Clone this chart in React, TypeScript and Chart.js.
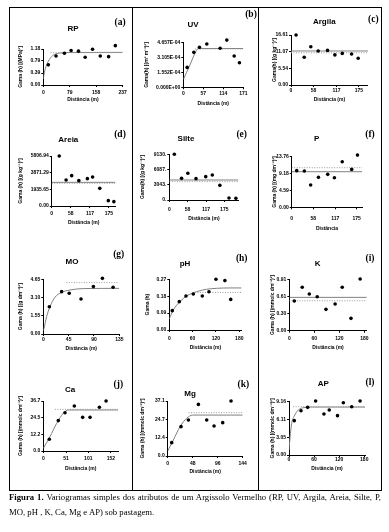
import React, { useEffect, useRef } from "react";
import { Chart, registerables } from "chart.js";
Chart.register(...registerables);

// ---------------- data ----------------
// (a) RP
const RP_DIST = [15, 38, 63, 83, 105, 125, 147, 170, 195, 215];
const RP_GAMMA = [0.66, 0.95, 1.04, 1.13, 1.11, 0.91, 1.17, 0.95, 0.93, 1.29];
const RP_MODEL_DIST = [0, 3, 10, 20, 30, 45, 70, 237];
const RP_MODEL_GAMMA = [0.2, 0.4, 0.66, 0.87, 0.98, 1.04, 1.065, 1.07];
const RP_SILL_DIST = [22, 237];
const RP_SILL_GAMMA = [1.06, 1.06];
const RP_X_TICKS = [0, 79, 158, 237];
const RP_Y_TICKS = [0, 0.393, 0.787, 1.18];
const RP_Y_LABELS = ["0.00", "0.39", "0.79", "1.18"];

// (b) UV
const UV_DIST = [11, 30, 46, 67, 87, 105, 124, 145, 160];
const UV_GAMMA = [2.08e-4, 3.65e-4, 4.17e-4, 4.52e-4, 5.11e-4, 4.07e-4, 4.93e-4, 3.27e-4, 2.57e-4];
const UV_MODEL_DIST = [0, 19, 33, 43, 171];
const UV_MODEL_GAMMA = [0.83e-4, 2.33e-4, 3.54e-4, 4.05e-4, 4.05e-4];
const UV_SILL_DIST = [33, 171];
const UV_SILL_GAMMA = [4.0e-4, 4.0e-4];
const UV_X_TICKS = [0, 57, 114, 171];
const UV_Y_TICKS = [0, 1.552e-4, 3.105e-4, 4.657e-4];
const UV_Y_LABELS = ["0.000E+00", "1.552E-04", "3.105E-04", "4.657E-04"];

// (c) Argila
const ARGILA_DIST = [13, 34, 51, 70, 94, 113, 132, 156, 173];
const ARGILA_GAMMA = [16.6, 9.2, 12.7, 11.3, 11.5, 10.0, 10.5, 10.3, 8.9];
const ARGILA_MODEL_DIST = [0, 198];
const ARGILA_MODEL_GAMMA = [11.3, 11.3];
const ARGILA_SILL_DIST = [0, 198];
const ARGILA_SILL_GAMMA = [10.7, 10.7];
const ARGILA_X_TICKS = [0, 58, 117, 175];
const ARGILA_Y_TICKS = [0, 5.537, 11.073, 16.61];
const ARGILA_Y_LABELS = ["0.00", "5.54", "11.07", "16.61"];

// (d) Areia
const AREIA_DIST = [23, 44, 61, 83, 109, 125, 147, 173, 190];
const AREIA_GAMMA = [5806, 3020, 3523, 2942, 3174, 3368, 2052, 619, 503];
const AREIA_MODEL_DIST = [0, 195];
const AREIA_MODEL_GAMMA = [2748, 2748];
const AREIA_SILL_DIST = [0, 195];
const AREIA_SILL_GAMMA = [2632, 2632];
const AREIA_X_TICKS = [0, 58, 117, 175];
const AREIA_Y_TICKS = [0, 1935.65, 3871.29, 5806.94];
const AREIA_Y_LABELS = ["0.00", "1935.65", "3871.29", "5806.94"];

// (e) Silte
const SILTE_DIST = [16, 39, 59, 85, 116, 137, 161, 190, 212];
const SILTE_GAMMA = [9130, 4330, 5330, 4262, 4662, 4995, 2930, 400, 333];
const SILTE_MODEL_DIST = [0, 220];
const SILTE_MODEL_GAMMA = [3996, 3996];
const SILTE_SILL_DIST = [0, 220];
const SILTE_SILL_GAMMA = [3663, 3663];
const SILTE_X_TICKS = [0, 58, 117, 175];
const SILTE_Y_TICKS = [0, 3043.3, 6086.7, 9130];
const SILTE_Y_LABELS = ["0.", "3043.", "6087.", "9130."];

// (f) P
const P_DIST = [13.5, 34, 51, 72, 97, 115, 136, 161.5, 177];
const P_GAMMA = [9.96, 9.87, 6.06, 8.15, 8.96, 8.05, 12.4, 10.3, 14.2];
const P_MODEL_DIST = [0, 190];
const P_MODEL_GAMMA = [9.68, 9.68];
const P_SILL_DIST = [0, 190];
const P_SILL_GAMMA = [10.77, 10.77];
const P_X_TICKS = [0, 58, 117, 175];
const P_Y_TICKS = [0, 4.587, 9.173, 13.76];
const P_Y_LABELS = ["0.00", "4.59", "9.18", "13.76"];

// (g) MO
const MO_DIST = [10.7, 32.6, 46, 67, 89, 105, 124];
const MO_GAMMA = [2.32, 3.6, 3.46, 2.98, 4.03, 4.73, 3.97];
const MO_MODEL_DIST = [0, 1.2, 5.9, 11.8, 20.7, 32.6, 47.4, 71, 135];
const MO_MODEL_GAMMA = [0.3, 0.48, 1.47, 2.32, 3.12, 3.54, 3.74, 3.86, 3.88];
const MO_SILL_DIST = [41, 135];
const MO_SILL_GAMMA = [4.37, 4.37];
const MO_X_TICKS = [0, 45, 90, 135];
const MO_Y_TICKS = [0, 1.55, 3.1, 4.65];
const MO_Y_LABELS = ["0.00", "1.55", "3.10", "4.65"];

// (h) pH
const PH_DIST = [7.7, 25.7, 42.9, 61.7, 84.9, 102, 120, 143, 158];
const PH_GAMMA = [0.103, 0.151, 0.181, 0.192, 0.181, 0.204, 0.27, 0.263, 0.163];
const PH_MODEL_DIST = [0, 10.3, 27.4, 44.6, 70.3, 96, 122, 156, 186];
const PH_MODEL_GAMMA = [0.059, 0.107, 0.151, 0.181, 0.204, 0.217, 0.222, 0.224, 0.224];
const PH_SILL_DIST = [66, 186];
const PH_SILL_GAMMA = [0.2, 0.2];
const PH_X_TICKS = [0, 60, 120, 180];
const PH_Y_TICKS = [0, 0.09, 0.18, 0.27];
const PH_Y_LABELS = ["0.00", "0.09", "0.18", "0.27"];

// (i) K
const K_DIST = [12, 31, 48, 67, 88, 110, 127, 148, 170];
const K_GAMMA = [0.526, 0.768, 0.65, 0.6, 0.378, 0.473, 0.768, 0.219, 0.916];
const K_MODEL_DIST = [0, 186];
const K_MODEL_GAMMA = [0.59, 0.59];
const K_SILL_DIST = [0, 186];
const K_SILL_GAMMA = [0.53, 0.53];
const K_X_TICKS = [0, 60, 120, 180];
const K_Y_TICKS = [0, 0.303, 0.607, 0.91];
const K_Y_LABELS = ["0.00", "0.30", "0.61", "0.91"];

// (j) Ca
const CA_DIST = [13.5, 33.7, 48.7, 69.7, 88.4, 105, 126, 141];
const CA_GAMMA = [8.6, 22.3, 28.1, 33.0, 24.7, 24.7, 32.1, 36.7];
const CA_MODEL_DIST = [0, 15, 30, 45, 56, 168];
const CA_MODEL_GAMMA = [2.0, 10.5, 20.3, 27.7, 30.1, 30.1];
const CA_SILL_DIST = [26, 168];
const CA_SILL_GAMMA = [30.6, 30.6];
const CA_X_TICKS = [0, 51, 101, 152];
const CA_Y_TICKS = [0, 12.23, 24.47, 36.7];
const CA_Y_LABELS = ["0.0", "12.2", "24.5", "36.7"];

// (k) Mg
const MG_DIST = [7.7, 25.6, 39.7, 58.9, 74.9, 89, 105.6, 121.6];
const MG_GAMMA = [9.0, 19.8, 24.3, 34.8, 24.3, 20.2, 22.5, 37.1];
const MG_MODEL_DIST = [0, 10.9, 23.7, 36.5, 48, 144];
const MG_MODEL_GAMMA = [3.4, 10.8, 19.8, 25.5, 27.6, 27.6];
const MG_SILL_DIST = [40, 144];
const MG_SILL_GAMMA = [29.2, 29.2];
const MG_X_TICKS = [0, 48, 96, 144];
const MG_Y_TICKS = [0, 12.37, 24.73, 37.1];
const MG_Y_LABELS = ["0.0", "12.4", "24.7", "37.1"];

// (l) AP
const AP_DIST = [12.7, 28.7, 44.6, 63.7, 83.6, 96.3, 116, 130, 150, 170];
const AP_GAMMA = [5.9, 7.6, 8.19, 9.27, 7.04, 7.73, 6.76, 8.99, 8.3, 9.27];
const AP_MODEL_DIST = [0, 1.6, 6.4, 12.7, 22.3, 34.2, 54, 182];
const AP_MODEL_GAMMA = [0.8, 2.3, 5.44, 6.7, 7.73, 8.13, 8.24, 8.24];
const AP_SILL_DIST = [10, 182];
const AP_SILL_GAMMA = [8.3, 8.3];
const AP_X_TICKS = [0, 60, 120, 180];
const AP_Y_TICKS = [0, 3.053, 6.107, 9.16];
const AP_Y_LABELS = ["0.00", "3.05", "6.11", "9.16"];

const CAPTION_BOLD = "Figura 1.";
const CAPTION_LINE1 = " Variogramas simples dos atributos de um Argissolo Vermelho (RP, UV, Argila, Areia, Silte, P,";
const CAPTION_LINE2 = "MO, pH , K, Ca, Mg e AP) sob pastagem.";

const DIST_M = "Distância (m)";
const MMOLC = "Gama (h) [(mmolc dm⁻³)²]";

type PanelData = {
  name: string; tag: string; yTitle: string; xTitle: string;
  dist: number[]; gamma: number[]; modelDist: number[]; modelGamma: number[];
  sillDist: number[]; sillGamma: number[];
  xTicks: number[]; xMax: number; yTicks: number[]; yLabels: string[];
};

const PANELS: PanelData[] = [
  { name: "RP", tag: "(a)", yTitle: "Gama (h) [(MPa)²]", xTitle: DIST_M, dist: RP_DIST, gamma: RP_GAMMA, modelDist: RP_MODEL_DIST, modelGamma: RP_MODEL_GAMMA, sillDist: RP_SILL_DIST, sillGamma: RP_SILL_GAMMA, xTicks: RP_X_TICKS, xMax: 237, yTicks: RP_Y_TICKS, yLabels: RP_Y_LABELS },
  { name: "UV", tag: "(b)", yTitle: "Gama(h) [(m³ m⁻³)²]", xTitle: DIST_M, dist: UV_DIST, gamma: UV_GAMMA, modelDist: UV_MODEL_DIST, modelGamma: UV_MODEL_GAMMA, sillDist: UV_SILL_DIST, sillGamma: UV_SILL_GAMMA, xTicks: UV_X_TICKS, xMax: 171, yTicks: UV_Y_TICKS, yLabels: UV_Y_LABELS },
  { name: "Argila", tag: "(c)", yTitle: "Gama(h) [(g kg⁻¹)²]", xTitle: DIST_M, dist: ARGILA_DIST, gamma: ARGILA_GAMMA, modelDist: ARGILA_MODEL_DIST, modelGamma: ARGILA_MODEL_GAMMA, sillDist: ARGILA_SILL_DIST, sillGamma: ARGILA_SILL_GAMMA, xTicks: ARGILA_X_TICKS, xMax: 198, yTicks: ARGILA_Y_TICKS, yLabels: ARGILA_Y_LABELS },
  { name: "Areia", tag: "(d)", yTitle: "Gama (h) [(g kg⁻¹)²]", xTitle: DIST_M, dist: AREIA_DIST, gamma: AREIA_GAMMA, modelDist: AREIA_MODEL_DIST, modelGamma: AREIA_MODEL_GAMMA, sillDist: AREIA_SILL_DIST, sillGamma: AREIA_SILL_GAMMA, xTicks: AREIA_X_TICKS, xMax: 195, yTicks: AREIA_Y_TICKS, yLabels: AREIA_Y_LABELS },
  { name: "Silte", tag: "(e)", yTitle: "Gama(h) [(g kg⁻¹)²]", xTitle: DIST_M, dist: SILTE_DIST, gamma: SILTE_GAMMA, modelDist: SILTE_MODEL_DIST, modelGamma: SILTE_MODEL_GAMMA, sillDist: SILTE_SILL_DIST, sillGamma: SILTE_SILL_GAMMA, xTicks: SILTE_X_TICKS, xMax: 220, yTicks: SILTE_Y_TICKS, yLabels: SILTE_Y_LABELS },
  { name: "P", tag: "(f)", yTitle: "Gama (h) [(mg dm⁻³)²]", xTitle: "Distância", dist: P_DIST, gamma: P_GAMMA, modelDist: P_MODEL_DIST, modelGamma: P_MODEL_GAMMA, sillDist: P_SILL_DIST, sillGamma: P_SILL_GAMMA, xTicks: P_X_TICKS, xMax: 190, yTicks: P_Y_TICKS, yLabels: P_Y_LABELS },
  { name: "MO", tag: "(g)", yTitle: "Gama (h) [(g dm⁻³)²]", xTitle: DIST_M, dist: MO_DIST, gamma: MO_GAMMA, modelDist: MO_MODEL_DIST, modelGamma: MO_MODEL_GAMMA, sillDist: MO_SILL_DIST, sillGamma: MO_SILL_GAMMA, xTicks: MO_X_TICKS, xMax: 135, yTicks: MO_Y_TICKS, yLabels: MO_Y_LABELS },
  { name: "pH", tag: "(h)", yTitle: "Gama (h)", xTitle: DIST_M, dist: PH_DIST, gamma: PH_GAMMA, modelDist: PH_MODEL_DIST, modelGamma: PH_MODEL_GAMMA, sillDist: PH_SILL_DIST, sillGamma: PH_SILL_GAMMA, xTicks: PH_X_TICKS, xMax: 186, yTicks: PH_Y_TICKS, yLabels: PH_Y_LABELS },
  { name: "K", tag: "(i)", yTitle: MMOLC, xTitle: DIST_M, dist: K_DIST, gamma: K_GAMMA, modelDist: K_MODEL_DIST, modelGamma: K_MODEL_GAMMA, sillDist: K_SILL_DIST, sillGamma: K_SILL_GAMMA, xTicks: K_X_TICKS, xMax: 186, yTicks: K_Y_TICKS, yLabels: K_Y_LABELS },
  { name: "Ca", tag: "(j)", yTitle: MMOLC, xTitle: DIST_M, dist: CA_DIST, gamma: CA_GAMMA, modelDist: CA_MODEL_DIST, modelGamma: CA_MODEL_GAMMA, sillDist: CA_SILL_DIST, sillGamma: CA_SILL_GAMMA, xTicks: CA_X_TICKS, xMax: 168, yTicks: CA_Y_TICKS, yLabels: CA_Y_LABELS },
  { name: "Mg", tag: "(k)", yTitle: MMOLC, xTitle: DIST_M, dist: MG_DIST, gamma: MG_GAMMA, modelDist: MG_MODEL_DIST, modelGamma: MG_MODEL_GAMMA, sillDist: MG_SILL_DIST, sillGamma: MG_SILL_GAMMA, xTicks: MG_X_TICKS, xMax: 144, yTicks: MG_Y_TICKS, yLabels: MG_Y_LABELS },
  { name: "AP", tag: "(l)", yTitle: MMOLC, xTitle: DIST_M, dist: AP_DIST, gamma: AP_GAMMA, modelDist: AP_MODEL_DIST, modelGamma: AP_MODEL_GAMMA, sillDist: AP_SILL_DIST, sillGamma: AP_SILL_GAMMA, xTicks: AP_X_TICKS, xMax: 182, yTicks: AP_Y_TICKS, yLabels: AP_Y_LABELS },
];

// ---------------- layout (page pixels) ----------------
type Geo = {
  cell: [number, number, number, number];
  plot: [number, number, number, number]; // L, R, T, B
  xLabelY: number; xTitleY: number; yTitleX: number;
  title: [number, number]; tagPos: [number, number];
};
const COLS: [number, number][] = [[10, 122], [133, 124], [259, 122]];
const ROWS: [number, number][] = [[8, 110], [118, 121], [240, 128], [368, 122]];
const cellOf = (c: number, r: number): [number, number, number, number] => [COLS[c][0], ROWS[r][0], COLS[c][1], ROWS[r][1]];

const LAYOUT: Geo[] = [
  { cell: cellOf(0, 0), plot: [43.3, 122.7, 49, 85], xLabelY: 92.7, xTitleY: 99.5, yTitleX: 20.5, title: [73, 29], tagPos: [120, 23] },
  { cell: cellOf(1, 0), plot: [183.3, 243.3, 42.7, 87.3], xLabelY: 94, xTitleY: 104, yTitleX: 146.5, title: [193, 25], tagPos: [251, 15] },
  { cell: cellOf(2, 0), plot: [291, 367.9, 35, 85], xLabelY: 91, xTitleY: 99.5, yTitleX: 275, title: [324.3, 22], tagPos: [373.3, 20] },
  { cell: cellOf(0, 1), plot: [51.7, 115.5, 156, 206], xLabelY: 214, xTitleY: 222.7, yTitleX: 20.5, title: [68.3, 139.3], tagPos: [120, 135] },
  { cell: cellOf(1, 1), plot: [169.3, 238.4, 154.3, 200], xLabelY: 210, xTitleY: 219, yTitleX: 143, title: [186, 139], tagPos: [241.7, 135] },
  { cell: cellOf(2, 1), plot: [291.7, 362.3, 156.7, 207.3], xLabelY: 218.3, xTitleY: 228.3, yTitleX: 275, title: [316.7, 138.3], tagPos: [370, 135] },
  { cell: cellOf(0, 2), plot: [43.3, 119.3, 279.3, 334], xLabelY: 339.3, xTitleY: 348.3, yTitleX: 20.5, title: [72, 261.7], tagPos: [118.7, 255] },
  { cell: cellOf(1, 2), plot: [169.3, 241.6, 279.3, 330], xLabelY: 338.3, xTitleY: 347.3, yTitleX: 148, title: [185, 263.3], tagPos: [241.7, 258.3] },
  { cell: cellOf(2, 2), plot: [289.3, 366.8, 279.3, 330.7], xLabelY: 339, xTitleY: 347.7, yTitleX: 273, title: [317.7, 263.3], tagPos: [370, 258.3] },
  { cell: cellOf(0, 3), plot: [43.3, 118.1, 401, 451], xLabelY: 458.3, xTitleY: 468.3, yTitleX: 20.5, title: [70, 390], tagPos: [118.3, 385] },
  { cell: cellOf(1, 3), plot: [167.7, 242.7, 401, 456], xLabelY: 463.3, xTitleY: 471.7, yTitleX: 143, title: [190, 393.3], tagPos: [243.3, 385] },
  { cell: cellOf(2, 3), plot: [289, 365.1, 401.7, 455], xLabelY: 460, xTitleY: 469, yTitleX: 273, title: [323.3, 383.3], tagPos: [370, 383] },
];

const SANS = '"Liberation Sans", Arial, Helvetica, sans-serif';
const SERIF = '"Liberation Serif", "Times New Roman", serif';
const TICK_SIZE = 5;
const AX_TITLE_SIZE = 5;
const TICK_LEN = 2;

const panelTextPlugin = {
  id: "panelText",
  afterDraw(chart: any) {
    const o = chart.options.plugins.panelText;
    if (!o) return;
    const ctx = chart.ctx;
    ctx.save();
    ctx.fillStyle = "#000";
    ctx.textAlign = "center";
    ctx.textBaseline = "middle";
    ctx.font = `bold 8px ${SANS}`;
    ctx.fillText(o.name, o.tx, o.ty);
    ctx.font = `bold 9.5px ${SERIF}`;
    ctx.fillText(o.tag, o.gx, o.gy);
    ctx.restore();
  },
};

function makeConfig(p: PanelData, g: Geo): any {
  const [x0, y0, w, h] = g.cell;
  const [L, R, T, B] = g.plot;
  const lhTick = TICK_SIZE * 1.2;
  const lhT = AX_TITLE_SIZE * 1.2;
  const xHeight = g.xTitleY + lhT / 2 - B;
  const yWidth = L - x0;
  const xTickPad = g.xLabelY - B - TICK_LEN - lhTick / 2;
  const yTitlePad = g.yTitleX - x0 - lhT / 2;
  const tickFont = { family: SANS, size: TICK_SIZE, weight: "bold" };
  const titleFont = { family: SANS, size: AX_TITLE_SIZE, weight: "bold" };
  const grid = { display: true, drawOnChartArea: false, drawTicks: true, tickLength: TICK_LEN, color: "#000", lineWidth: 1 };
  const border = { display: true, color: "#000", width: 1 };
  return {
    type: "scatter",
    data: {
      datasets: [
        {
          data: p.modelDist.map((x, i) => ({ x, y: p.modelGamma[i] })),
          showLine: true, borderColor: "#808080", borderWidth: 1, pointRadius: 0,
          cubicInterpolationMode: "monotone", order: 3,
        },
        {
          data: p.sillDist.map((x, i) => ({ x, y: p.sillGamma[i] })),
          showLine: true, borderColor: "#9a9a9a", borderWidth: 1, borderDash: [1, 1.5], pointRadius: 0, order: 2,
        },
        {
          data: p.dist.map((x, i) => ({ x, y: p.gamma[i] })),
          showLine: false, pointRadius: 1.8, pointBackgroundColor: "#000", pointBorderWidth: 0,
          borderColor: "#000", clip: false, order: 1,
        },
      ],
    },
    options: {
      responsive: false,
      animation: false,
      events: [],
      layout: {
        padding: { left: 0, top: T - y0, right: x0 + w - R, bottom: y0 + h - (B + xHeight) },
      },
      plugins: {
        legend: { display: false },
        tooltip: { enabled: false },
        title: { display: false },
        panelText: { name: p.name, tag: p.tag, tx: g.title[0] - x0, ty: g.title[1] - y0, gx: g.tagPos[0] - x0, gy: g.tagPos[1] - y0 },
      },
      scales: {
        x: {
          type: "linear", min: 0, max: p.xMax,
          grid, border,
          ticks: { color: "#000", font: tickFont, padding: xTickPad, autoSkip: false, maxRotation: 0, callback: (v: number) => String(v) },
          title: { display: true, text: p.xTitle, color: "#000", font: titleFont, padding: 0 },
          afterBuildTicks: (s: any) => { s.ticks = p.xTicks.map((v) => ({ value: v })); },
          afterFit: (s: any) => { s.height = xHeight; },
        },
        y: {
          type: "linear", min: 0, max: p.yTicks[p.yTicks.length - 1],
          grid, border,
          ticks: { color: "#000", font: tickFont, padding: 1, autoSkip: false, callback: (_v: number, i: number) => p.yLabels[i] },
          title: { display: true, text: p.yTitle, color: "#000", font: titleFont, padding: { top: yTitlePad, bottom: 0 } },
          afterBuildTicks: (s: any) => { s.ticks = p.yTicks.map((v) => ({ value: v })); },
          afterFit: (s: any) => { s.width = yWidth; },
        },
      },
    },
    plugins: [panelTextPlugin],
  };
}

const FRAME = { left: 9, top: 7, right: 382, bottom: 491 };
const V_DIVIDERS = [132, 258];

export default function App() {
  const refs = useRef<(HTMLCanvasElement | null)[]>([]);
  useEffect(() => {
    const charts = PANELS.map((p, i) => new Chart(refs.current[i] as HTMLCanvasElement, makeConfig(p, LAYOUT[i])));
    return () => charts.forEach((c) => c.destroy());
  }, []);

  const captionBase = { position: "absolute" as const, left: 9, width: 372, fontFamily: SERIF, fontSize: "8.7px", lineHeight: "15px", color: "#000", whiteSpace: "nowrap" as const };

  return (
    <div style={{ position: "absolute", left: 0, top: 0, width: 389, height: 532, background: "#fff", overflow: "hidden" }}>
      {PANELS.map((p, i) => {
        const [x0, y0, w, h] = LAYOUT[i].cell;
        return (
          <canvas
            key={p.tag}
            ref={(el) => { refs.current[i] = el; }}
            width={w}
            height={h}
            style={{ position: "absolute", left: x0, top: y0, width: w, height: h }}
          />
        );
      })}
      <div style={{ position: "absolute", left: FRAME.left, top: FRAME.top, width: FRAME.right - FRAME.left, height: FRAME.bottom - FRAME.top, border: "1px solid #000", boxSizing: "border-box" }} />
      {V_DIVIDERS.map((x) => (
        <div key={x} style={{ position: "absolute", left: x, top: FRAME.top, width: 1, height: FRAME.bottom - FRAME.top, background: "#000" }} />
      ))}
      <div style={{ ...captionBase, top: 490, textAlign: "justify", textAlignLast: "justify" }}>
        <b>{CAPTION_BOLD}</b>
        {CAPTION_LINE1}
      </div>
      <div style={{ ...captionBase, top: 505, textAlign: "left" }}>{CAPTION_LINE2}</div>
    </div>
  );
}
